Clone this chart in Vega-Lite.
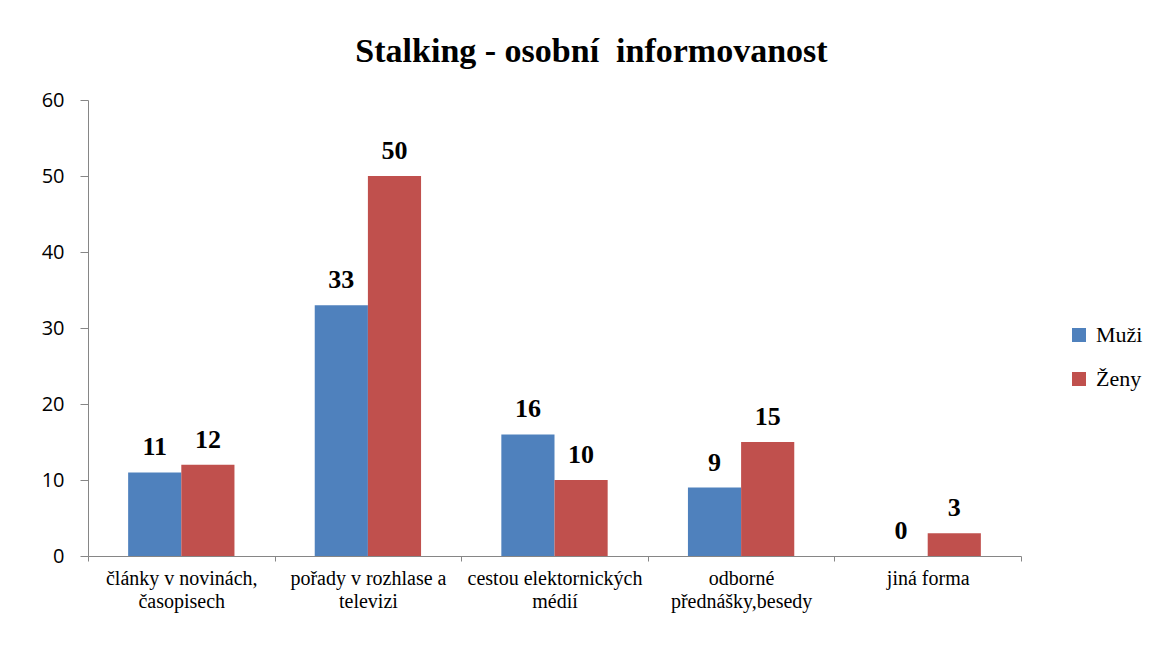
{
  "$schema": "https://vega.github.io/schema/vega-lite/v6.json",
  "width": 933,
  "height": 456,
  "autosize": "none",
  "padding": {"left": 88, "top": 100, "right": 147, "bottom": 92},
  "background": "white",
  "title": {"text": "Stalking - osobní\u00a0 informovanost", "font": "Liberation Serif", "fontSize": 34, "fontWeight": "bold", "color": "black", "anchor": "middle", "dx": 37, "offset": 21},
  "data": {"values": [
    {"kategorie": "články v novinách, časopisech", "pohlavi": "Muži", "pocet": 11},
    {"kategorie": "články v novinách, časopisech", "pohlavi": "Ženy", "pocet": 12},
    {"kategorie": "pořady v rozhlase a televizi", "pohlavi": "Muži", "pocet": 33},
    {"kategorie": "pořady v rozhlase a televizi", "pohlavi": "Ženy", "pocet": 50},
    {"kategorie": "cestou elektornických médií", "pohlavi": "Muži", "pocet": 16},
    {"kategorie": "cestou elektornických médií", "pohlavi": "Ženy", "pocet": 10},
    {"kategorie": "odborné přednášky,besedy", "pohlavi": "Muži", "pocet": 9},
    {"kategorie": "odborné přednášky,besedy", "pohlavi": "Ženy", "pocet": 15},
    {"kategorie": "jiná forma", "pohlavi": "Muži", "pocet": 0},
    {"kategorie": "jiná forma", "pohlavi": "Ženy", "pocet": 3}
  ]},
  "encoding": {
    "x": {
      "field": "kategorie", "type": "nominal", "sort": null,
      "scale": {"paddingInner": 0, "paddingOuter": 0},
      "axis": {
        "title": null, "labelAngle": 0,
        "labelFont": "Liberation Serif", "labelFontSize": 20, "labelColor": "black",
        "labelLineHeight": 23, "labelPadding": 7,
        "domainColor": "#868686", "tickColor": "#868686", "tickSize": 5,
        "tickBand": "extent",
        "labelExpr": "datum.value == 'články v novinách, časopisech' ? ['články v novinách,', 'časopisech'] : datum.value == 'pořady v rozhlase a televizi' ? ['pořady v rozhlase a', 'televizi'] : datum.value == 'cestou elektornických médií' ? ['cestou elektornických', 'médií'] : datum.value == 'odborné přednášky,besedy' ? ['odborné', 'přednášky,besedy'] : datum.value"
      }
    },
    "xOffset": {"field": "pohlavi", "type": "nominal", "sort": ["Muži", "Ženy"], "scale": {"paddingInner": 0, "paddingOuter": 0.755}},
    "y": {
      "field": "pocet", "type": "quantitative",
      "scale": {"domain": [0, 60], "nice": false},
      "axis": {
        "title": null, "values": [0, 10, 20, 30, 40, 50, 60], "grid": false,
        "labelFont": "Open Sans", "labelFontSize": 20, "labelColor": "black", "labelPadding": 16,
        "domainColor": "#868686", "tickColor": "#868686", "tickSize": 8
      }
    },
    "color": {
      "field": "pohlavi", "type": "nominal",
      "scale": {"domain": ["Muži", "Ženy"], "range": ["#4F81BD", "#C0504D"]},
      "legend": {
        "title": null, "orient": "none", "legendX": 980, "legendY": 224,
        "symbolType": "square", "symbolSize": 196, "symbolStrokeWidth": 0,
        "labelFont": "Liberation Serif", "labelFontSize": 22, "labelColor": "black",
        "labelOffset": 6, "rowPadding": 22
      }
    }
  },
  "layer": [
    {"mark": {"type": "bar"}},
    {
      "mark": {"type": "text", "baseline": "alphabetic", "dy": -17, "font": "Liberation Serif", "fontSize": 26, "fontWeight": "bold", "color": "black"},
      "encoding": {"text": {"field": "pocet", "type": "quantitative"}, "color": {"value": "black"}}
    }
  ],
  "config": {"view": {"stroke": null}}
}
